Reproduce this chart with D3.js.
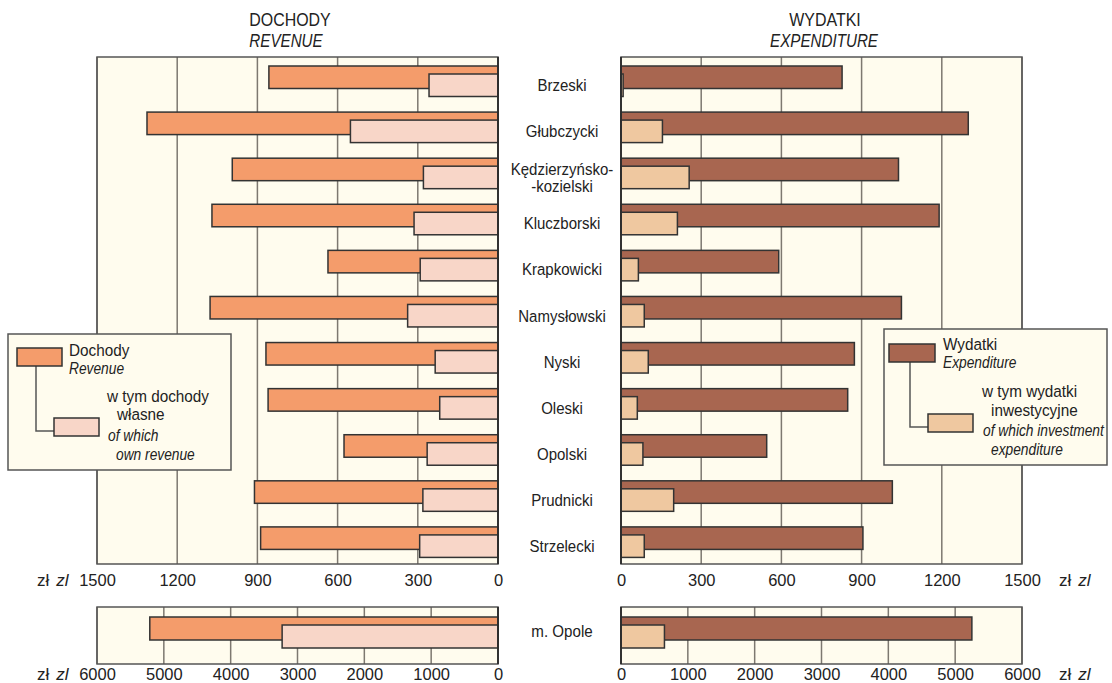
<!DOCTYPE html>
<html><head><meta charset="utf-8">
<script src="https://cdn.jsdelivr.net/npm/d3@7"></script>
<style>
html,body{margin:0;padding:0;background:#fff;}
svg text{font-family:"Liberation Sans",Arial,sans-serif;fill:#222;}
</style></head>
<body><svg id="c" width="1112" height="683"></svg>
<script>
const categories = ["Brzeski","Głubczycki","Kędzierzyńsko-\n-kozielski","Kluczborski","Krapkowicki","Namysłowski","Nyski","Oleski","Opolski","Prudnicki","Strzelecki"];
const revenue     = [857,1313,994,1070,636,1077,868,860,576,911,888];
const ownRevenue  = [258,552,279,314,291,338,235,218,265,281,293];
const expenditure = [827,1299,1038,1190,590,1049,873,848,545,1015,905];
const investment  = [8,155,255,211,65,87,102,61,82,197,87];
const cityCategory = ["m. Opole"];
const cityRevenue = [5210];
const cityOwnRevenue = [3230];
const cityExpenditure = [5250];
const cityInvestment = [650];
const ticksMain = [0,300,600,900,1200,1500];
const ticksCity = [0,1000,2000,3000,4000,5000,6000];

const C = {bg:"#fffcee", rev:"#f49c6b", own:"#f8d6c8", exp:"#a86650", inv:"#efc8a0", stroke:"#333", grid:"#7d7870", border:"#555"};
const svg = d3.select("#c");

const xL = d3.scaleLinear().domain([0,1500]).range([498,97]);
const xR = d3.scaleLinear().domain([0,1500]).range([621,1022]);
const xLc = d3.scaleLinear().domain([0,6000]).range([498,97]);
const xRc = d3.scaleLinear().domain([0,6000]).range([621,1022]);
const y = d3.scaleBand().domain(categories).range([57,564]);
const yc = d3.scaleBand().domain(cityCategory).range([607,664]);

function stext(parent, x, yy, str, o={}){
  return parent.append("text")
    .attr("transform",`translate(${x},${yy}) scale(${o.sx||1},1)`)
    .attr("text-anchor",o.anchor||"start")
    .attr("font-size",o.size||17)
    .attr("font-style",o.italic?"italic":null)
    .text(str);
}

function panel(x, yTop, yBot, ticks){
  const [a,b] = x.range();
  const g = svg.append("g");
  g.append("rect").attr("x",Math.min(a,b)).attr("y",yTop).attr("width",Math.abs(b-a)).attr("height",yBot-yTop)
    .attr("fill",C.bg);
  g.selectAll("line.grid").data(ticks).join("line").attr("class","grid")
    .attr("x1",d=>x(d)).attr("x2",d=>x(d)).attr("y1",yTop).attr("y2",yBot)
    .attr("stroke",C.grid).attr("stroke-width",1.5);
}
function frame(x, yTop, yBot){
  const [a,b] = x.range();
  svg.append("rect").attr("x",Math.min(a,b)).attr("y",yTop).attr("width",Math.abs(b-a)).attr("height",yBot-yTop)
    .attr("fill","none").attr("stroke",C.border).attr("stroke-width",1.5);
  svg.append("line").attr("x1",x(0)).attr("x2",x(0)).attr("y1",yTop).attr("y2",yBot).attr("stroke","#222").attr("stroke-width",1.5);
}
function bars(x, band, cats, main, sub, cMain, cSub, offMain, offSub, h){
  const g = svg.append("g");
  g.selectAll("rect.m").data(cats).join("rect").attr("class","m")
    .attr("x",(d,i)=>Math.min(x(0),x(main[i]))).attr("width",(d,i)=>Math.abs(x(main[i])-x(0)))
    .attr("y",d=>band(d)+offMain).attr("height",h)
    .attr("fill",cMain).attr("stroke",C.stroke).attr("stroke-width",1.5);
  g.selectAll("rect.s").data(cats).join("rect").attr("class","s")
    .attr("x",(d,i)=>Math.min(x(0),x(sub[i]))).attr("width",(d,i)=>Math.abs(x(sub[i])-x(0)))
    .attr("y",d=>band(d)+offSub).attr("height",h)
    .attr("fill",cSub).attr("stroke",C.stroke).attr("stroke-width",1.5);
}
function axis(x, yPos, ticks){
  const g = svg.append("g").attr("transform",`translate(0,${yPos})`)
    .call(d3.axisBottom(x).tickValues(ticks).tickSize(0).tickPadding(0).tickFormat(d3.format("d")));
  g.select(".domain").remove();
  g.selectAll("text").attr("font-size",17).attr("dy","0").attr("y",0)
    .attr("transform","scale(0.97,1)").style("font-family",null);
}

panel(xL,57,564,ticksMain); panel(xR,57,564,ticksMain);
bars(xL,y,categories,revenue,ownRevenue,C.rev,C.own,9,17,22.5);
bars(xR,y,categories,expenditure,investment,C.exp,C.inv,9,17,22.5);
frame(xL,57,564); frame(xR,57,564);
panel(xLc,607,664,ticksCity); panel(xRc,607,664,ticksCity);
bars(xLc,yc,cityCategory,cityRevenue,cityOwnRevenue,C.rev,C.own,10,18,23);
bars(xRc,yc,cityCategory,cityExpenditure,cityInvestment,C.exp,C.inv,10,18,23);
frame(xLc,607,664); frame(xRc,607,664);

axis(xL,586,ticksMain); axis(xR,586,ticksMain);
axis(xLc,680,ticksCity); axis(xRc,680,ticksCity);

function unit(xp, yp){
  const t = svg.append("text").attr("x",xp).attr("y",yp).attr("font-size",17);
  t.append("tspan").text("zł");
  t.append("tspan").attr("dx",7).attr("font-style","italic").text("zl");
}
unit(37,586); unit(37,680); unit(1059,586); unit(1059,680);

const lab = svg.append("g");
categories.forEach(c=>{
  const lines = c.split("\n");
  const cy = y(c)+y.bandwidth()/2+5;
  lines.forEach((l,i)=>{
    stext(lab,562,cy+6+(i-(lines.length-1)/2)*17,l,{anchor:"middle",size:16.5,sx:0.91});
  });
});
cityCategory.forEach(c=>{
  stext(lab,562,yc(c)+yc.bandwidth()/2+1,c,{anchor:"middle",size:17,sx:0.89});
});

function title(xp, a, xi, b){
  stext(svg,xp,26,a,{anchor:"middle",size:19,sx:0.84});
  stext(svg,xi,47,b,{anchor:"middle",size:19,sx:0.8,italic:true});
}
title(290,"DOCHODY",286,"REVENUE");
title(825,"WYDATKI",824,"EXPENDITURE");

function legend(bx,by,bw,bh,s1,s2,c1,c2,texts){
  const g = svg.append("g");
  g.append("rect").attr("x",bx).attr("y",by).attr("width",bw).attr("height",bh).attr("fill",C.bg).attr("stroke",C.border).attr("stroke-width",1.5);
  g.append("path").attr("d",`M${s1[4]},${s1[1]+s1[3]}V${s2[1]+s2[3]/2+4}H${s2[0]}`).attr("fill","none").attr("stroke","#555").attr("stroke-width",1.5);
  g.append("rect").attr("x",s1[0]).attr("y",s1[1]).attr("width",s1[2]).attr("height",s1[3]).attr("fill",c1).attr("stroke",C.stroke).attr("stroke-width",1.5);
  g.append("rect").attr("x",s2[0]).attr("y",s2[1]).attr("width",s2[2]).attr("height",s2[3]).attr("fill",c2).attr("stroke",C.stroke).attr("stroke-width",1.5);
  texts.forEach(d=>stext(g,d[0],d[1],d[2],{size:17,sx:d[3]?0.81:0.9,italic:!!d[3]}));
}
legend(8,334,223,136,[17,348,45,18,36],[54,418,45,18],C.rev,C.own,
  [[69,356,"Dochody"],[69,374,"Revenue",1],
   [107,402,"w tym dochody"],[117,420,"własne"],[108,441,"of which",1],[116,460,"own revenue",1]]);
legend(884,329,223,136,[889,344,46,18,910],[928,414,45,18],C.exp,C.inv,
  [[943,350,"Wydatki"],[943,368,"Expenditure",1],
   [982,397,"w tym wydatki"],[991,416,"inwestycyjne"],[983,436,"of which investment",1],[991,455,"expenditure",1]]);
</script></body></html>
